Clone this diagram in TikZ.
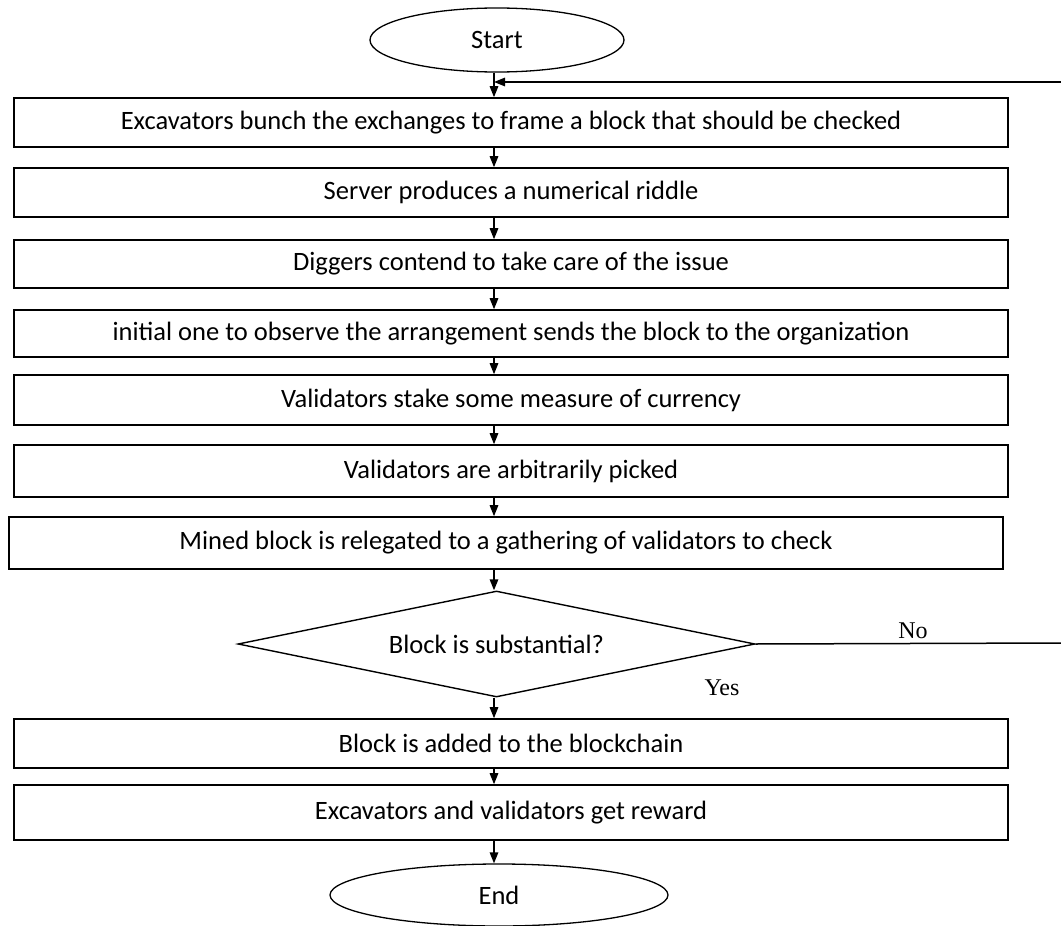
\documentclass[tikz,border=0pt]{standalone}
\usepackage{fontspec}
\setmainfont{Carlito}
\newfontfamily\labelfont{Liberation Serif}
\usetikzlibrary{shapes.geometric,arrows.meta}

\begin{document}
\begin{tikzpicture}[x=1pt,y=-1pt,
  every node/.style={font=\fontsize{26.5}{30}\selectfont},
  stepbox/.style={draw,rectangle,line width=1.6pt,inner sep=0pt,
    minimum width=994pt},
  term/.style={draw,ellipse,line width=1.3pt,inner sep=0pt},
  decide/.style={draw,diamond,line width=1.4pt,inner sep=0pt,aspect=4.88,
    minimum width=517pt,minimum height=106pt},
  flow/.style={line width=1.5pt,-{Triangle[length=11pt,width=8.5pt]}},
  wire/.style={line width=1.5pt},
  answer/.style={font=\labelfont\fontsize{24}{28}\selectfont}]

\useasboundingbox (0,0) rectangle (1061,926);

% main vertical axis of the flow
\coordinate (axis) at (494,0);

\node[term,minimum width=254pt,minimum height=64pt] (start) at (497,40) {Start};

\node[stepbox,minimum height=49pt] (b1) at (511,122.5)
  {Excavators bunch the exchanges to frame a block that should be checked};
\node[stepbox,minimum height=49pt] (b2) at (511,192.5)
  {Server produces a numerical riddle};
\node[stepbox,minimum height=48pt] (b3) at (511,264)
  {Diggers contend to take care of the issue};
\node[stepbox,minimum height=47pt] (b4) at (511,333.5)
  {initial one to observe the arrangement sends the block to the organization};
\node[stepbox,minimum height=50pt] (b5) at (511,400)
  {Validators stake some measure of currency};
\node[stepbox,minimum height=52pt] (b6) at (511,471)
  {Validators are arbitrarily picked};
\node[stepbox,minimum height=52pt] (b7) at (506,543)
  {Mined block is relegated to a gathering of validators to check};

\node[decide] (d) at (496.5,644) {Block is substantial?};

\node[stepbox,minimum height=49pt] (b8) at (511,743.5)
  {Block is added to the blockchain};
\node[stepbox,minimum height=55pt] (b9) at (511,812.5)
  {Excavators and validators get reward};

\node[term,minimum width=338pt,minimum height=62pt] (end) at (499,895) {End};

% straight-down connectors
\draw[flow] (start.south -| axis) -- (b1.north -| axis);
\draw[flow] (b1.south -| axis) -- (b2.north -| axis);
\draw[flow] (b2.south -| axis) -- (b3.north -| axis);
\draw[flow] (b3.south -| axis) -- (b4.north -| axis);
\draw[flow] (b4.south -| axis) -- (b5.north -| axis);
\draw[flow] (b5.south -| axis) -- (b6.north -| axis);
\draw[flow] (b6.south -| axis) -- (b7.north -| axis);
\draw[flow] (b7.south -| axis) -- (d.north -| axis);
\draw[flow] (d.south -| axis) -- (b8.north -| axis);
\draw[flow] (b8.south -| axis) -- (b9.north -| axis);
\draw[flow] (b9.south -| axis) -- (end.north -| axis);

% "No" branch and the return line into the first step
\coordinate (noR) at (1061,643);
\coordinate (backR) at (1061,82);
\draw[wire] (d.east) -- (noR);
\draw[flow] (backR) -- (backR -| axis);

\node[answer] (no) at (913,631) {No};
\node[answer] (yes) at (722,688) {Yes};
\end{tikzpicture}
\end{document}
